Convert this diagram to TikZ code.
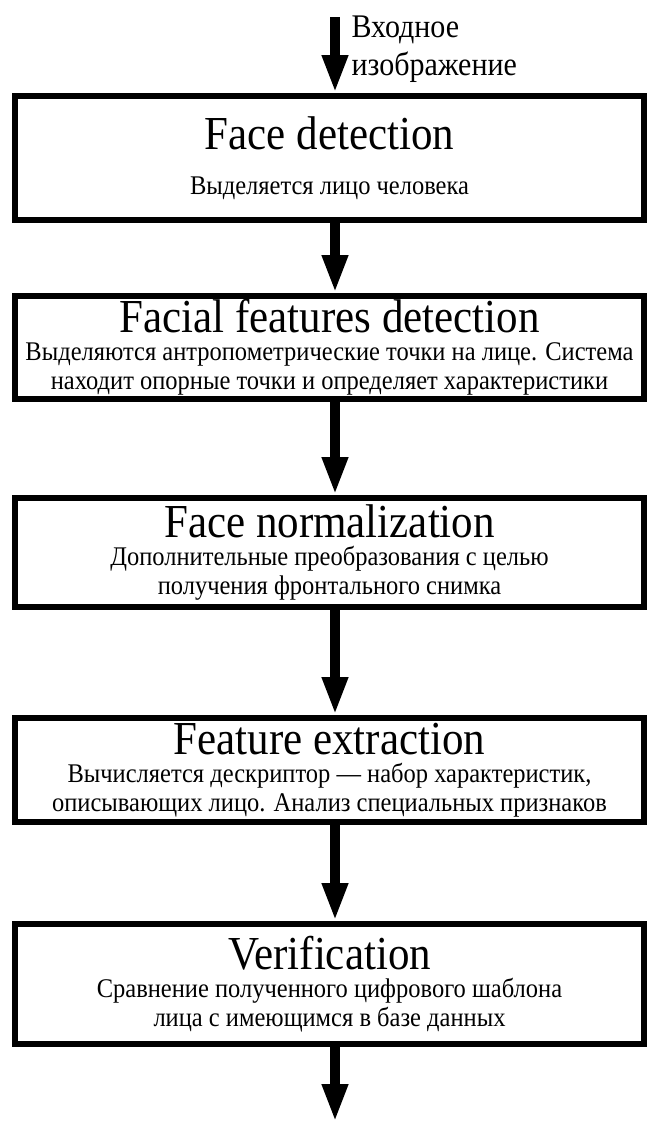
\documentclass[tikz,border=0pt]{standalone}
\usepackage{fontspec}
\setmainfont{Liberation Serif}
\usepackage{graphicx}
\usetikzlibrary{arrows.meta}
\newcommand\tl[1]{\scalebox{1}[1.1]{#1}}
\newcommand\ttl[1]{{\fontsize{43}{46}\selectfont\tl{#1}}}

\begin{document}
\begin{tikzpicture}[x=1pt, y=-1pt,
  stage/.style={draw, line width=6pt, minimum width=629pt, align=center,
    inner sep=0pt, font=\fontsize{24.5}{29}\selectfont},
  arr/.style={line width=10pt, -{Triangle[length=38pt,width=24pt]}}]
\useasboundingbox (0,0) rectangle (651,1122);
% input and output ends
\coordinate (in) at (335,17);
\coordinate (out) at (335,1122);
\node[anchor=north west, align=left, font=\fontsize{30}{38}\selectfont] (inlbl) at (348,12)
  {\tl{Входное}\\\tl{изображение}};
% stages
\node[stage, minimum height=124pt] (fdet) at (329.5,158)
  {\ttl{Face detection}\\[16pt]\tl{Выделяется лицо человека}};
\node[stage, minimum height=103pt] (ffeat) at (329.5,347.5)
  {\ttl{Facial features detection}\\[-1pt]
   \tl{Выделяются антропометрические точки на лице. Система}\\
   \tl{находит опорные точки и определяет характеристики}};
\node[stage, minimum height=109pt] (fnorm) at (329.5,552.5)
  {\ttl{Face normalization}\\[-1pt]
   \tl{Дополнительные преобразования с целью}\\
   \tl{получения фронтального снимка}};
\node[stage, minimum height=104pt] (fext) at (329.5,770)
  {\ttl{Feature extraction}\\[-1pt]
   \tl{Вычисляется дескриптор — набор характеристик,}\\
   \tl{описывающих лицо. Анализ специальных признаков}};
\node[stage, minimum height=120pt] (verif) at (329.5,984)
  {\ttl{Verification}\\[-1pt]
   \tl{Сравнение полученного цифрового шаблона}\\
   \tl{лица с имеющимся в базе данных}};
% arrows
\draw[arr] (in) -- (in |- fdet.north);
\draw[arr] (fdet.south -| in) -- (ffeat.north -| in);
\draw[arr] (ffeat.south -| in) -- (fnorm.north -| in);
\draw[arr] (fnorm.south -| in) -- (fext.north -| in);
\draw[arr] (fext.south -| in) -- (verif.north -| in);
\draw[arr] (verif.south -| in) -- (out);
\end{tikzpicture}
\end{document}
